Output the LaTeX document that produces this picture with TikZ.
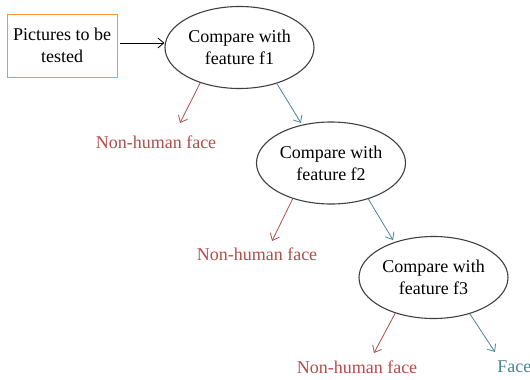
\documentclass[tikz,border=0pt]{standalone}
\usepackage{fontspec}
\setmainfont{Liberation Serif}
\usetikzlibrary{shapes.geometric,arrows.meta}
\definecolor{boxorange}{RGB}{247,150,70}
\definecolor{nored}{RGB}{178,76,72}
\definecolor{yesteal}{RGB}{72,132,152}

\begin{document}
\begin{tikzpicture}[x=1pt,y=-1pt,line width=0.8pt,
  font=\fontsize{18}{22}\selectfont,
  cmp/.style={ellipse,draw=black!75,line width=1.1pt,minimum width=149pt,
    minimum height=82pt,inner sep=0pt,align=center},
  arr/.style={-{Straight Barb[length=6pt,width=10pt]}},
  nolab/.style={text=nored,inner sep=0pt},
  yeslab/.style={text=yesteal,inner sep=0pt}]
  \useasboundingbox (0,0) rectangle (530,380);
  % input box and first test
  \node[draw=boxorange,line width=0.9pt,minimum width=110pt,minimum height=63pt,
    inner sep=0pt,align=center] (pics) at (62,45.5) {Pictures to be\\tested};
  \node[cmp] (f1) at (239.5,47.5) {Compare with\\feature f1};
  \draw[arr,black,shorten <=3pt] (pics.east |- 0,43) -- (f1.west |- 0,43);
  % second and third tests
  \node[cmp] (f2) at (331,163) {Compare with\\feature f2};
  \node[cmp] (f3) at (433.5,277.5) {Compare with\\feature f3};
  % outcomes
  \node[nolab] (no1) at (156,142) {Non-human face};
  \node[nolab] (no2) at (257,254) {Non-human face};
  \node[nolab] (no3) at (357,367) {Non-human face};
  \node[yeslab,anchor=west] (face) at (497,367) {Face};
  \coordinate (r1) at (180,123); \coordinate (t1) at (301,123);
  \coordinate (r2) at (272,241); \coordinate (t2) at (393,240);
  \coordinate (r3) at (374,353); \coordinate (t3) at (495,352);
  \draw[arr,nored] (f1.222) -- (r1);
  \draw[arr,yesteal] (f1.316) -- (t1);
  \draw[arr,nored] (f2.223) -- (r2);
  \draw[arr,yesteal] (f2.316) -- (t2);
  \draw[arr,nored] (f3.223) -- (r3);
  \draw[arr,yesteal] (f3.315) -- (t3);
\end{tikzpicture}
\end{document}
